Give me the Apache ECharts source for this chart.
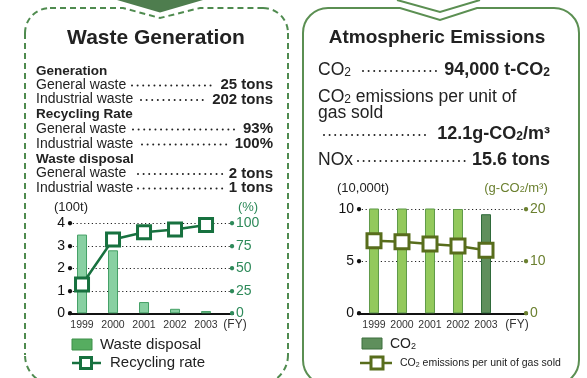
<!DOCTYPE html>
<html>
<head>
<meta charset="utf-8">
<script src="https://cdn.jsdelivr.net/npm/echarts@6/dist/echarts.min.js"></script>
<style>
  html, body { margin: 0; padding: 0; background: #fff; }
  #main { width: 587px; height: 378px; }
</style>
</head>
<body>
<div id="main"></div>
<script>
  // values
  const years = ['1999', '2000', '2001', '2002', '2003']
  const wasteDisposal = [3.5, 2.8, 0.5, 0.2, 0.1]      // (100t)
  const recyclingRate = [32, 82, 90, 93, 98]          // (%)
  const co2 = [10.4, 10.4, 10.1, 10.0, 9.5]           // (10,000t)
  const co2PerGas = [13.9, 13.7, 13.3, 12.9, 12.1]    // (g-CO2/m3)

  // axis ranges
  const wasteAxis = { min: 0, max: 4, interval: 1 }
  const rateAxis = { min: 0, max: 100, interval: 25 }
  const co2Axis = { min: 0, max: 10, interval: 5 }
  const perGasAxis = { min: 0, max: 20, interval: 10 }

  const FONT = '"Liberation Sans", Arial, sans-serif'
  const NARROW = '"Liberation Sans Narrow", "Liberation Sans", Arial, sans-serif'
  const GREEN = '#17713f'
  const OLIVE = '#586d1c'

  const chart = echarts.init(document.getElementById('main'), null, { renderer: 'canvas' })

  function leftLabel(color) {
    return {
      color: color, fontSize: 14, fontFamily: FONT, margin: -4,
      formatter: v => v + '{d|●}',
      rich: { d: { fontSize: 10, color: color, padding: [0, 0, 0, 2] } }
    }
  }
  function rightLabel(color) {
    return {
      color: color, fontSize: 14, fontFamily: FONT, margin: -4,
      formatter: v => '{d|●}' + v,
      rich: { d: { fontSize: 10, color: color, padding: [0, 1, 0, 0] } }
    }
  }
  const dotted = { show: true, lineStyle: { color: '#222', width: 1, type: [1.2, 2.6] } }
  const noLine = { show: false }

  function xAxisOf(gridIndex, min, max) {
    return {
      type: 'value', gridIndex: gridIndex, min: min, max: max,
      axisLine: { show: true, onZero: true, lineStyle: { color: '#111', width: 2 } },
      axisTick: { show: false },
      splitLine: { show: false },
      axisLabel: {
        customValues: [0, 1, 2, 3, 4],
        formatter: v => years[v] || '',
        fontSize: 10.5, fontFamily: NARROW, color: '#333', margin: 6
      }
    }
  }

  // small text helpers for the graphic layer
  function txt(text, x, y, size, opts) {
    opts = opts || {}
    return {
      type: 'text', silent: true, z: 10,
      style: Object.assign({
        text: text, x: x, y: y, fontSize: size, fontFamily: FONT,
        fontWeight: opts.bold ? 'bold' : 'normal', fill: opts.color || '#222',
        textAlign: opts.align || 'left', textVerticalAlign: 'middle',
        rich: {
          s: { fontSize: Math.round(size * 0.66), verticalAlign: 'bottom', fontWeight: 'normal' },
          sb: { fontSize: Math.round(size * 0.66), verticalAlign: 'bottom', fontWeight: 'bold' }
        }
      }, opts.style || {})
    }
  }
  function leader(x1, x2, y) {
    return {
      type: 'line', silent: true, z: 10,
      shape: { x1: x1, y1: y, x2: x2, y2: y },
      style: { stroke: '#222', lineWidth: 2, lineDash: [0.01, 5.6], lineCap: 'round' }
    }
  }
  function seg(x1, y1, x2, y2, style) {
    return { type: 'line', silent: true, shape: { x1: x1, y1: y1, x2: x2, y2: y2 }, style: Object.assign({ fill: null }, style) }
  }
  function corner(cx, cy, r, a0, a1, style) {
    return {
      type: 'arc', silent: true,
      shape: { cx: cx, cy: cy, r: r, startAngle: a0 * Math.PI, endAngle: a1 * Math.PI, clockwise: true },
      style: Object.assign({ fill: null }, style)
    }
  }

  const leftRows = [
    ['Generation', 71, null, null],
    ['General waste', 85, '25 tons', [132, 214]],
    ['Industrial waste', 99.5, '202 tons', [141, 208]],
    ['Recycling Rate', 114, null, null],
    ['General waste', 129, '93%', [133, 235]],
    ['Industrial waste', 144, '100%', [142, 230]],
    ['Waste disposal', 159, null, null],
    ['General waste', 173.5, '2 tons', [138, 223]],
    ['Industrial waste', 188, '1 tons', [138, 225]]
  ]

  const dashed = { stroke: '#4f8b4f', lineWidth: 2, lineDash: [6, 4] }
  const solid = { stroke: '#5b8f52', lineWidth: 2 }

  const graphics = [
    // left panel frame (dashed) with notch
    seg(25, 33, 25, 355, dashed),
    seg(288, 33, 288, 355, dashed),
    { type: 'polyline', silent: true, shape: { points: [[50, 8], [123, 8], [160, 18], [200, 8], [263, 8]] }, style: Object.assign({ fill: null }, dashed) },
    corner(50, 33, 25, 1, 1.5, dashed),
    corner(263, 33, 25, 1.5, 2, dashed),
    corner(55, 355, 30, 0.5, 1, dashed),
    corner(258, 355, 30, 0, 0.5, dashed),
    {
      type: 'polygon', silent: true,
      shape: { points: [[117, 0], [203, 0], [160, 12.5]] },
      style: { fill: '#4e7d4e' }
    },
    // right panel frame (solid) with notch
    seg(303, 33, 303, 360, solid),
    seg(579, 33, 579, 360, solid),
    { type: 'polyline', silent: true, shape: { points: [[328, 8], [400, 8], [440, 20], [477, 8], [554, 8]] }, style: Object.assign({ fill: null }, solid) },
    corner(328, 33, 25, 1, 1.5, solid),
    corner(554, 33, 25, 1.5, 2, solid),
    corner(328, 360, 25, 0.5, 1, solid),
    corner(554, 360, 25, 0, 0.5, solid),
    {
      type: 'polyline', silent: true,
      shape: { points: [[397, 0], [440, 12], [480, 0]] },
      style: { fill: null, stroke: '#5b8f52', lineWidth: 2 }
    },

    txt('Waste Generation', 156, 38, 21, { bold: true, align: 'center' }),
    txt('Atmospheric Emissions', 437, 38, 19, { bold: true, align: 'center' }),

    // right panel figures
    txt('CO{s|2}', 318, 70, 17.5),
    leader(363, 436, 71),
    txt('94,000 t-CO{sb|2}', 550, 70, 18, { bold: true, align: 'right' }),
    txt('CO{s|2} emissions per unit of', 318, 97, 17.5),
    txt('gas sold', 318, 113, 17.5),
    leader(324, 428, 135),
    txt('12.1g-CO{sb|2}/m³', 550, 134, 18, { bold: true, align: 'right' }),
    txt('NOx', 318, 160, 17.5),
    leader(358, 467, 161),
    txt('15.6 tons', 550, 160, 18, { bold: true, align: 'right' }),

    // axis units
    txt('(100t)', 71, 207, 13, { align: 'center' }),
    txt('(%)', 248, 207, 13, { align: 'center', color: '#2e8a5a' }),
    txt('(FY)', 235, 325, 12, { align: 'center', color: '#333' }),
    txt('(10,000t)', 363, 188, 13, { align: 'center' }),
    txt('(g-CO{s|2}/m³)', 516, 188, 13, { align: 'center', color: '#6b8030' }),
    txt('(FY)', 517, 325, 12, { align: 'center', color: '#333' }),

    // left legend
    {
      type: 'rect', silent: true, shape: { x: 72, y: 339, width: 20, height: 11 },
      style: { fill: '#56ad60', stroke: '#3c8f48', lineWidth: 1 }
    },
    txt('Waste disposal', 100, 345, 15),
    seg(72, 363, 101, 363, { stroke: GREEN, lineWidth: 2.5 }),
    { type: 'rect', silent: true, shape: { x: 80.5, y: 357.5, width: 11, height: 11 }, style: { fill: '#fff', stroke: GREEN, lineWidth: 3 } },
    txt('Recycling rate', 110, 363, 15),

    // right legend
    {
      type: 'rect', silent: true, shape: { x: 362, y: 338, width: 20, height: 11 },
      style: { fill: '#5f8f5c', stroke: '#3d6e3d', lineWidth: 1 }
    },
    txt('CO{s|2}', 390, 344, 14),
    seg(360, 363, 392, 363, { stroke: OLIVE, lineWidth: 2.5 }),
    { type: 'rect', silent: true, shape: { x: 371, y: 357, width: 12, height: 12 }, style: { fill: '#fff', stroke: OLIVE, lineWidth: 3 } },
    txt('CO{s|2} emissions per unit of gas sold', 400, 363, 10.5, { style: { fontFamily: NARROW } })
  ]

  leftRows.forEach(r => {
    const heading = r[2] === null
    graphics.push(txt(r[0], 36, r[1], heading ? 13.5 : 14, { bold: heading }))
    if (!heading) {
      graphics.push(leader(r[3][0], r[3][1], r[1] + 0.5))
      graphics.push(txt(r[2], 273, r[1], 15, { bold: true, align: 'right' }))
    }
  })

  chart.setOption({
    animation: false,
    backgroundColor: '#fff',
    grid: [
      { left: 69, width: 164, top: 223.3, height: 90 },
      { left: 358, width: 169, top: 209, height: 104.3 }
    ],
    xAxis: [
      xAxisOf(0, -0.42, 4.87),
      xAxisOf(1, -0.571, 5.464)
    ],
    yAxis: [
      Object.assign({ type: 'value', gridIndex: 0, position: 'left', axisLine: noLine, axisTick: noLine, splitLine: dotted, axisLabel: leftLabel('#111') }, wasteAxis),
      Object.assign({ type: 'value', gridIndex: 0, position: 'right', axisLine: noLine, axisTick: noLine, splitLine: noLine, axisLabel: rightLabel('#2e8a5a') }, rateAxis),
      Object.assign({ type: 'value', gridIndex: 1, position: 'left', axisLine: noLine, axisTick: noLine, splitLine: dotted, axisLabel: leftLabel('#111') }, co2Axis),
      Object.assign({ type: 'value', gridIndex: 1, position: 'right', axisLine: noLine, axisTick: noLine, splitLine: noLine, axisLabel: rightLabel('#6b8030') }, perGasAxis)
    ],
    series: [
      {
        name: 'Waste disposal', type: 'bar', xAxisIndex: 0, yAxisIndex: 0, barWidth: 10,
        itemStyle: { color: '#88d0a2', borderColor: '#45a066', borderWidth: 1 },
        data: wasteDisposal.map((v, i) => [i, v])
      },
      {
        name: 'Recycling rate', type: 'line', xAxisIndex: 0, yAxisIndex: 1,
        symbol: 'rect', symbolSize: 13, z: 4,
        lineStyle: { color: GREEN, width: 2.5 },
        itemStyle: { color: '#fff', borderColor: GREEN, borderWidth: 3 },
        data: recyclingRate.map((v, i) => [i, v])
      },
      {
        name: 'CO2', type: 'bar', xAxisIndex: 1, yAxisIndex: 2, barWidth: 10,
        itemStyle: { color: '#93c95c', borderColor: '#5f9a48', borderWidth: 1 },
        data: co2.map((v, i) => i === co2.length - 1
          ? { value: [i, v], itemStyle: { color: '#5f8f5c', borderColor: '#2f6a3a' } }
          : [i, v])
      },
      {
        name: 'CO2 emissions per unit of gas sold', type: 'line', xAxisIndex: 1, yAxisIndex: 3,
        symbol: 'rect', symbolSize: 14, z: 4,
        lineStyle: { color: OLIVE, width: 2.5 },
        itemStyle: { color: '#fff', borderColor: OLIVE, borderWidth: 3 },
        data: co2PerGas.map((v, i) => [i, v])
      }
    ],
    graphic: graphics
  })
</script>
</body>
</html>
